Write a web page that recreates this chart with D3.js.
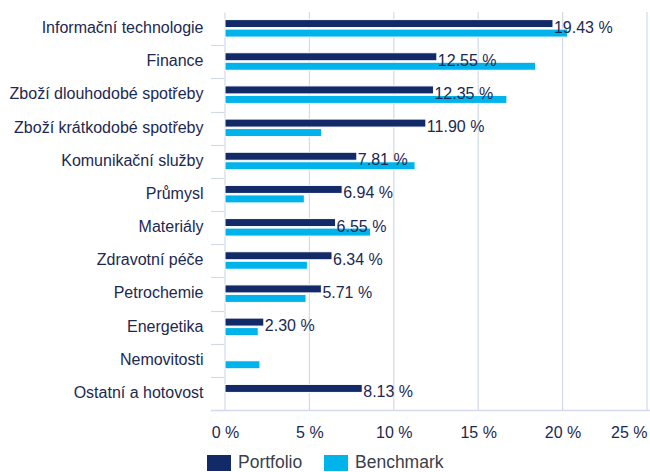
<!DOCTYPE html>
<html><head><meta charset="utf-8">
<script src="https://cdn.jsdelivr.net/npm/d3@7"></script>
<style>body{margin:0;background:#fff}svg{display:block}text{font-family:"Liberation Sans",Arial,sans-serif}</style>
</head><body>
<svg id="c" width="650" height="472"></svg>
<script>
const categories = ["Informační technologie","Finance","Zboží dlouhodobé spotřeby","Zboží krátkodobé spotřeby","Komunikační služby","Průmysl","Materiály","Zdravotní péče","Petrochemie","Energetika","Nemovitosti","Ostatní a hotovost"];
const portfolio = [19.43,12.55,12.35,11.90,7.81,6.94,6.55,6.34,5.71,2.30,null,8.13];
const benchmark = [20.3,18.4,16.7,5.73,11.26,4.7,8.63,4.88,4.8,1.97,2.07,null];
const xTicks = [0,5,10,15,20,25];
const seriesNames = ["Portfolio","Benchmark"];
const colors = ["#132a68","#00b4eb"];

const svg = d3.select("#c");
const x = d3.scaleLinear().domain([0,25]).range([225,647]);
const y = d3.scaleBand().domain(categories).range([12,410]);
const gridColor = "#d3dbe8";
const textColor = "#1c2950";

// gridlines
svg.append("g").selectAll("line").data(xTicks.slice(1)).join("line")
  .attr("x1",d=>x(d)).attr("x2",d=>x(d)).attr("y1",12).attr("y2",410)
  .attr("stroke",gridColor).attr("stroke-width",1.2);

// category axis
const yAxis = svg.append("g").attr("transform","translate(224.5,0)")
  .call(d3.axisLeft(y).tickSize(0).tickPadding(21));
yAxis.select(".domain").attr("stroke",gridColor).attr("stroke-width",1.2);
yAxis.selectAll("text").attr("font-size",16).attr("fill",textColor).attr("dy","0.28em");
// boundary ticks
const bounds = categories.slice(1).map(c=>y(c)).concat([410]);
svg.append("g").selectAll("line").data(bounds).join("line")
  .attr("x1",211).attr("x2",224.5).attr("y1",d=>Math.round(d)+0.5).attr("y2",d=>Math.round(d)+0.5)
  .attr("stroke",gridColor).attr("stroke-width",1.2);
svg.append("line").attr("x1",211).attr("x2",650).attr("y1",410.5).attr("y2",410.5)
  .attr("stroke",gridColor).attr("stroke-width",1.5);

// x axis labels
const xAxis = svg.append("g").attr("transform","translate(0,410)")
  .call(d3.axisBottom(x).tickValues(xTicks).tickSize(0).tickPadding(16.5).tickFormat(d=>d+" %"));
xAxis.select(".domain").remove();
xAxis.selectAll("text").attr("font-size",16).attr("fill",textColor);
xAxis.selectAll(".tick").filter(d=>d===25).select("text").attr("text-anchor","end").attr("x",0);

// bars
const bw = 8;
const series = [portfolio, benchmark];
series.forEach((vals,si)=>{
  svg.append("g").selectAll("rect").data(categories.map((c,i)=>({c,v:vals[i]})).filter(d=>d.v!=null)).join("rect")
    .attr("x",x(0)).attr("width",d=>x(d.v)-x(0))
    .attr("y",d=>y(d.c)+y.bandwidth()/2 + (si===0 ? -9 : 0.5))
    .attr("height",bw)
    .attr("fill",colors[si]).attr("stroke","#fff").attr("stroke-width",1);
});

// value labels
svg.append("g").selectAll("text").data(categories.map((c,i)=>({c,v:portfolio[i]})).filter(d=>d.v!=null)).join("text")
  .attr("x",d=>x(d.v)+1).attr("y",d=>y(d.c)+y.bandwidth()/2+4)
  .attr("font-size",16).attr("fill",textColor)
  .text(d=>d.v.toFixed(2)+" %");

// legend
const legend = svg.append("g");
const lx = [207,324];
seriesNames.forEach((n,i)=>{
  legend.append("rect").attr("x",lx[i]).attr("y",455).attr("width",24).attr("height",16).attr("fill",colors[i]);
  legend.append("text").attr("x",lx[i]+31).attr("y",467.5).attr("font-size",17.5).attr("fill","#3a3f4a").text(n);
});
</script>
</body></html>
